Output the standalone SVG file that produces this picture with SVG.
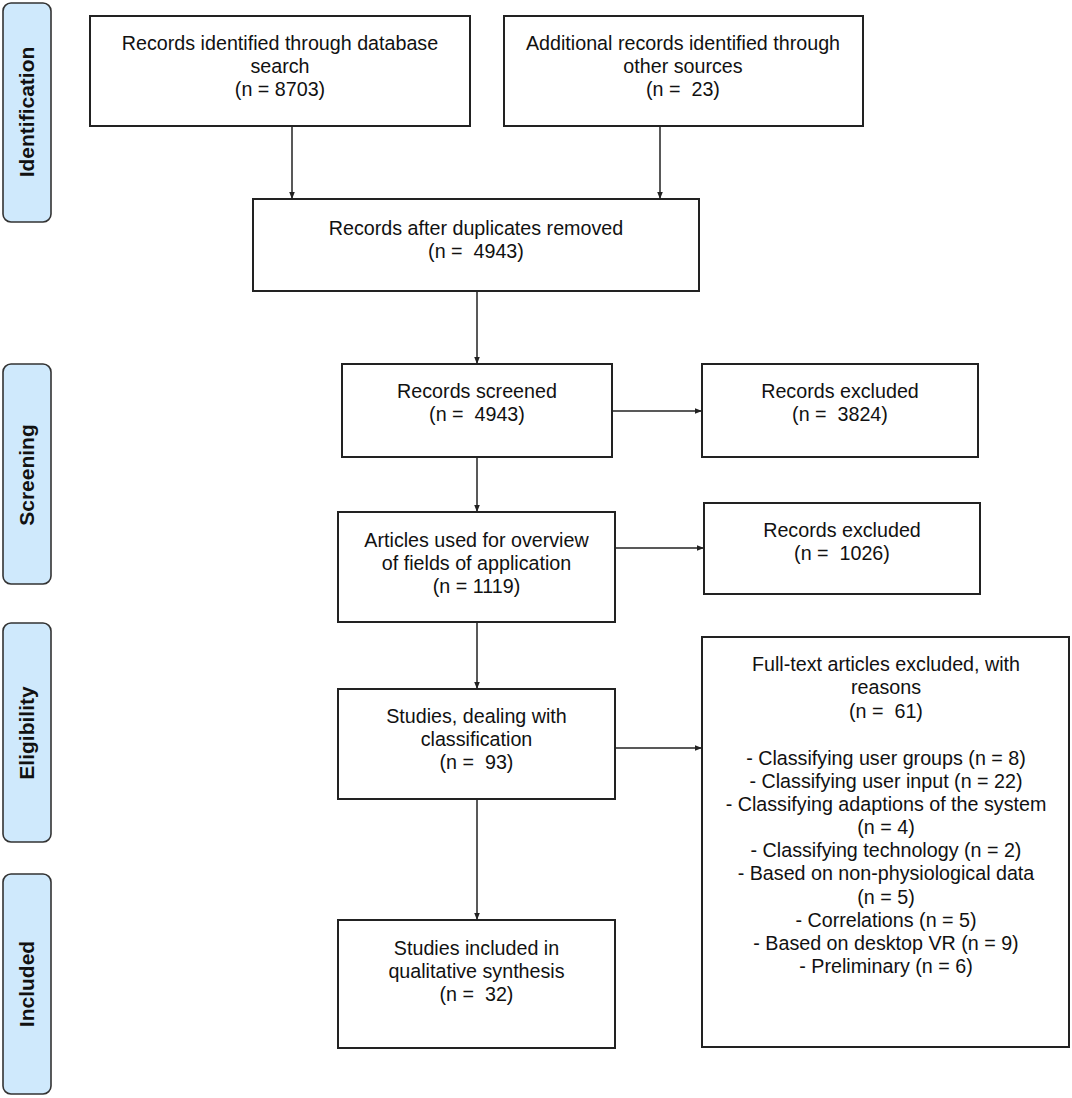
<svg xmlns="http://www.w3.org/2000/svg" width="1072" height="1098" viewBox="0 0 1072 1098">
<defs>
<style>
.box{fill:#fff;stroke:#222;stroke-width:2}
.side{fill:#cfe9fc;stroke:#333;stroke-width:1.6}
.t{font-family:"Liberation Sans",Arial,sans-serif;font-size:19.7px;fill:#111;text-anchor:middle}
.s{font-family:"Liberation Sans",Arial,sans-serif;font-size:21px;font-weight:bold;fill:#111;text-anchor:middle}
.c{fill:none;stroke:#222;stroke-width:1.5}
</style>
<marker id="ah" viewBox="0 0 10 10" refX="10" refY="5" markerWidth="7" markerHeight="7" orient="auto" markerUnits="userSpaceOnUse">
<path d="M0,1 L10,5 L0,9 Z" fill="#222"/>
</marker>
</defs>
<rect width="1072" height="1098" fill="#fff"/>

<g id="side-identification"><rect class="side" x="3" y="3" width="48" height="219" rx="8"/><text class="s" transform="translate(34,112) rotate(-90)">Identification</text></g>
<g id="side-screening"><rect class="side" x="3" y="364" width="48" height="220" rx="8"/><text class="s" transform="translate(34,475) rotate(-90)">Screening</text></g>
<g id="side-eligibility"><rect class="side" x="3" y="623" width="48" height="219" rx="8"/><text class="s" transform="translate(34,733) rotate(-90)">Eligibility</text></g>
<g id="side-included"><rect class="side" x="3" y="874" width="48" height="220" rx="8"/><text class="s" transform="translate(34,984) rotate(-90)">Included</text></g>

<g id="connectors">
<line class="c" x1="292" y1="126" x2="292" y2="199" marker-end="url(#ah)"/>
<line class="c" x1="660" y1="126" x2="660" y2="199" marker-end="url(#ah)"/>
<line class="c" x1="477" y1="291" x2="477" y2="364" marker-end="url(#ah)"/>
<line class="c" x1="612" y1="411" x2="702" y2="411" marker-end="url(#ah)"/>
<line class="c" x1="477" y1="457" x2="477" y2="512" marker-end="url(#ah)"/>
<line class="c" x1="615" y1="548" x2="704" y2="548" marker-end="url(#ah)"/>
<line class="c" x1="477" y1="622" x2="477" y2="689" marker-end="url(#ah)"/>
<line class="c" x1="615" y1="748" x2="702" y2="748" marker-end="url(#ah)"/>
<line class="c" x1="477" y1="799" x2="477" y2="920" marker-end="url(#ah)"/>
</g>

<g id="n1"><rect class="box" x="90" y="16" width="380" height="110"/>
<text class="t" x="280" y="50">Records identified through database</text>
<text class="t" x="280" y="73">search</text>
<text class="t" x="280" y="96">(n = 8703)</text></g>

<g id="n2"><rect class="box" x="504" y="16" width="359" height="110"/>
<text class="t" x="683" y="50">Additional records identified through</text>
<text class="t" x="683" y="73">other sources</text>
<text class="t" x="683" y="96" xml:space="preserve">(n =  23)</text></g>

<g id="n3"><rect class="box" x="253" y="199" width="446" height="92"/>
<text class="t" x="476" y="235">Records after duplicates removed</text>
<text class="t" x="476" y="258" xml:space="preserve">(n =  4943)</text></g>

<g id="n4"><rect class="box" x="342" y="364" width="270" height="93"/>
<text class="t" x="477" y="398">Records screened</text>
<text class="t" x="477" y="421" xml:space="preserve">(n =  4943)</text></g>

<g id="n5"><rect class="box" x="702" y="364" width="276" height="93"/>
<text class="t" x="840" y="398">Records excluded</text>
<text class="t" x="840" y="421" xml:space="preserve">(n =  3824)</text></g>

<g id="n6"><rect class="box" x="338" y="512" width="277" height="110"/>
<text class="t" x="476.5" y="547">Articles used for overview</text>
<text class="t" x="476.5" y="570">of fields of application</text>
<text class="t" x="476.5" y="593">(n = 1119)</text></g>

<g id="n7"><rect class="box" x="704" y="503" width="276" height="91"/>
<text class="t" x="842" y="537">Records excluded</text>
<text class="t" x="842" y="560" xml:space="preserve">(n =  1026)</text></g>

<g id="n8"><rect class="box" x="338" y="689" width="277" height="110"/>
<text class="t" x="476.5" y="723">Studies, dealing with</text>
<text class="t" x="476.5" y="746">classification</text>
<text class="t" x="476.5" y="769" xml:space="preserve">(n =  93)</text></g>

<g id="n9"><rect class="box" x="702" y="637" width="367" height="410"/>
<text class="t" x="886" y="671">Full-text articles excluded, with</text>
<text class="t" x="886" y="694">reasons</text>
<text class="t" x="886" y="718" xml:space="preserve">(n =  61)</text>
<text class="t" x="886" y="765">- Classifying user groups (n = 8)</text>
<text class="t" x="886" y="788">- Classifying user input (n = 22)</text>
<text class="t" x="886" y="811">- Classifying adaptions of the system</text>
<text class="t" x="886" y="834">(n = 4)</text>
<text class="t" x="886" y="857">- Classifying technology (n = 2)</text>
<text class="t" x="886" y="880">- Based on non-physiological data</text>
<text class="t" x="886" y="904">(n = 5)</text>
<text class="t" x="886" y="927">- Correlations (n = 5)</text>
<text class="t" x="886" y="950">- Based on desktop VR (n = 9)</text>
<text class="t" x="886" y="973">- Preliminary (n = 6)</text></g>

<g id="n10"><rect class="box" x="338" y="920" width="277" height="128"/>
<text class="t" x="476.5" y="955">Studies included in</text>
<text class="t" x="476.5" y="978">qualitative synthesis</text>
<text class="t" x="476.5" y="1001" xml:space="preserve">(n =  32)</text></g>
</svg>
